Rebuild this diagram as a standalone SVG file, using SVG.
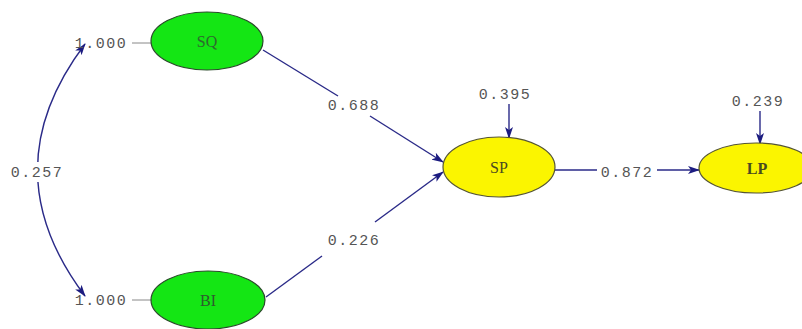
<svg xmlns="http://www.w3.org/2000/svg" width="802" height="329" viewBox="0 0 802 329">
<defs>
<marker id="ah" viewBox="0 0 12 8" refX="11" refY="4" markerWidth="12" markerHeight="8" markerUnits="userSpaceOnUse" orient="auto-start-reverse">
<path d="M0,0 L12,4 L0,8 L3,4 Z" fill="#1c1c80"/>
</marker>
<style>
.ln{stroke:#2a2a88;stroke-width:1.4;fill:none}
.thin{stroke:#888;stroke-width:1;fill:none}
.num{font-family:"Liberation Mono",monospace;font-size:15px;fill:#555;letter-spacing:1.5px;text-anchor:middle}
.nl{font-family:"Liberation Serif",serif;font-size:16px;text-anchor:middle}
.g{fill:#14e614;stroke:#2a4a2a;stroke-width:1.2}
.y{fill:#fbf500;stroke:#555533;stroke-width:1.2}
.bg{fill:#fff}
</style>
</defs>
<rect width="802" height="329" fill="#fff"/>
<g id="connectors">
<path class="ln" d="M85,44 Q-10,170 85,296" marker-start="url(#ah)" marker-end="url(#ah)"/>
<rect class="bg" x="6" y="162" width="62" height="20"/>
<line class="thin" x1="132" y1="43" x2="152" y2="43"/>
<line class="thin" x1="132" y1="300" x2="152" y2="300"/>
<line class="ln" x1="263" y1="50" x2="338" y2="96"/>
<line class="ln" x1="370" y1="116" x2="443" y2="162" marker-end="url(#ah)"/>
<line class="ln" x1="266" y1="297" x2="322" y2="256"/>
<line class="ln" x1="375" y1="222" x2="443" y2="172" marker-end="url(#ah)"/>
<line class="ln" x1="509" y1="104" x2="509" y2="138" marker-end="url(#ah)"/>
<line class="ln" x1="760" y1="111" x2="760" y2="144" marker-end="url(#ah)"/>
<line class="ln" x1="555" y1="170" x2="597" y2="170"/>
<line class="ln" x1="657" y1="170" x2="699" y2="170" marker-end="url(#ah)"/>
</g>
<g id="labels">
<text class="num" x="101" y="48">1.000</text>
<text class="num" x="101" y="305">1.000</text>
<text class="num" x="37" y="177">0.257</text>
<text class="num" x="354" y="110">0.688</text>
<text class="num" x="354" y="245">0.226</text>
<text class="num" x="505" y="99">0.395</text>
<text class="num" x="758" y="106">0.239</text>
<text class="num" x="627" y="177">0.872</text>
</g>
<g id="SQ">
<ellipse class="g" cx="207" cy="41" rx="56" ry="29"/>
<text class="nl" x="207" y="47" fill="#2e6a2e" font-family="Liberation Sans">SQ</text>
</g>
<g id="BI">
<ellipse class="g" cx="208" cy="300" rx="57" ry="29"/>
<text class="nl" x="208" y="306" fill="#2e5a2e">BI</text>
</g>
<g id="SP">
<ellipse class="y" cx="499" cy="167" rx="56" ry="30"/>
<text class="nl" x="499" y="173" fill="#4a4a20">SP</text>
</g>
<g id="LP">
<ellipse class="y" cx="756" cy="168" rx="57" ry="25"/>
<text class="nl" x="757" y="174" fill="#4a4a20" font-weight="bold">LP</text>
</g>
</svg>
